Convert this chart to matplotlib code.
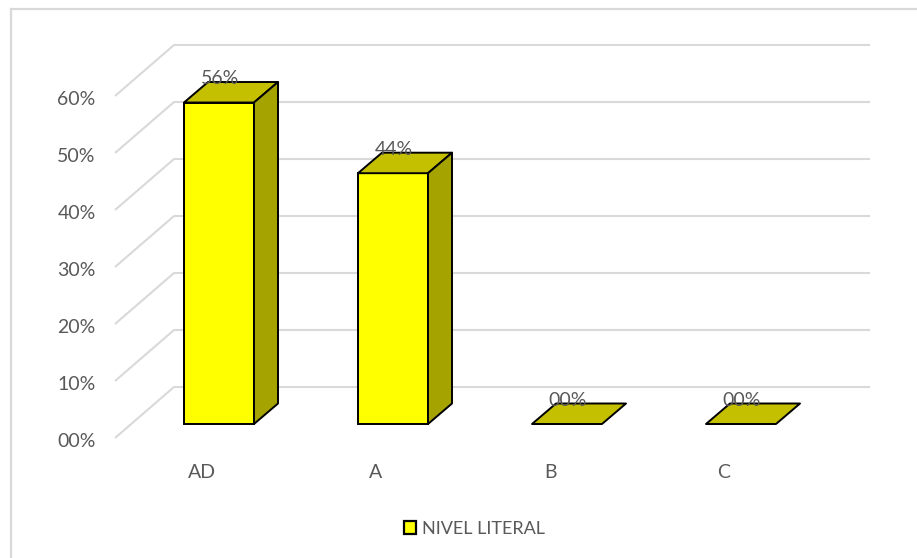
import numpy as np
import matplotlib
matplotlib.use('Agg')
import matplotlib.pyplot as plt
from matplotlib.patches import Patch
from matplotlib.transforms import ScaledTranslation

# data
categories = ['AD', 'A', 'B', 'C']
values = [56.4, 44.0, 0, 0]
value_labels = ['56%', '44%', '00%', '00%']
y_ticks = [0, 10, 20, 30, 40, 50, 60]
y_labels = ['00%', '10%', '20%', '30%', '40%', '50%', '60%']
series_name = 'NIVEL LITERAL'

plt.rcParams['font.family'] = ['Lato', 'DejaVu Sans']

W, H = 917, 558
PX_X = 174.0   # pixels per category
PX_Y = 5.7     # pixels per percent point
GREY = '#d9d9d9'
TXT = '#595959'

fig = plt.figure(figsize=(W / 100, H / 100), dpi=100, facecolor='white')
# axes box starts at the grey frame, which only has a left and a top side
ax = fig.add_axes([11 / W, 0, (W - 11) / W, (H - 9) / H])
ax.set_xlim((11 - 219) / PX_X, (W - 219) / PX_X)
ax.set_ylim((438 - H) / PX_Y, (438 - 9) / PX_Y)

# 3d depth, as data offsets
wall_dx, wall_dy = 59 / PX_X, 51 / PX_Y
bar_dx, bar_dy = 24 / PX_X, 20.5 / PX_Y
floor_y = 14 / PX_Y
grid_end = (870 - 219) / PX_X
bar_w = 70 / PX_X
x = np.arange(len(categories))

# gridlines: slanted side wall + back wall
x0 = (115 - 219) / PX_X
for t in y_ticks:
    ax.plot([x0, x0 + wall_dx, grid_end], [t, t + wall_dy, t + wall_dy],
            color=GREY, lw=1.5, solid_capstyle='butt', zorder=1)

# bars
ax.bar(x, values, bar_w, bottom=floor_y, color='#ffff00', edgecolor='black', lw=1.4, zorder=3)
for i, v in zip(x, values):
    l, r = i - bar_w / 2, i + bar_w / 2
    top = floor_y + v
    ax.fill([l, r, r + bar_dx, l + bar_dx], [top, top, top + bar_dy, top + bar_dy],
            facecolor='#c4c000', edgecolor='black', lw=1.4, joinstyle='round', zorder=3)
    if v > 0:
        ax.fill([r, r + bar_dx, r + bar_dx, r], [floor_y, floor_y + bar_dy, top + bar_dy, top],
                facecolor='#a5a300', edgecolor='black', lw=1.4, joinstyle='round', zorder=3)
    ax.annotate(value_labels[i], (i + 1 / PX_X, top), xytext=(0, 17), textcoords='offset points',
                ha='center', va='center', fontsize=14, color=TXT, zorder=4)

# axis text
ax.set_yticks(y_ticks, y_labels)
ax.set_xticks(x - 17 / PX_X, categories)
ax.tick_params(axis='y', length=0, pad=-61, labelsize=14, labelcolor=TXT)
ax.tick_params(axis='x', length=0, pad=-68, labelsize=14, labelcolor=TXT)
shift = ScaledTranslation(0, -1.5 / 72, fig.dpi_scale_trans)
for lab in ax.get_yticklabels():
    lab.set_transform(lab.get_transform() + shift)
for s in ['right', 'bottom']:
    ax.spines[s].set_visible(False)
for s in ['left', 'top']:
    ax.spines[s].set_color(GREY)
    ax.spines[s].set_linewidth(1.6)

handle = Patch(facecolor='#ffff00', edgecolor='black', lw=1.6)
ax.legend([handle], [series_name], loc='center', frameon=False,
          bbox_to_anchor=(474.5 / W, 1 - 529 / H), bbox_transform=fig.transFigure,
          fontsize=13, labelcolor=TXT, handlelength=0.68, handleheight=0.68,
          handletextpad=0.35, borderpad=0)

fig.savefig('out.png', dpi=100)
